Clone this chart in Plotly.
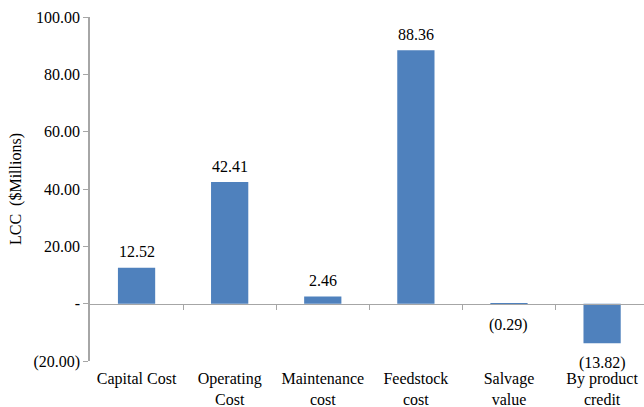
import plotly.graph_objects as go

categories = ["Capital Cost", "Operating<br>Cost", "Maintenance<br>cost", "Feedstock<br>cost",
              "Salvage<br>value", "By product<br>credit"]
values = [12.52, 42.41, 2.46, 88.36, -0.29, -13.82]
y_tickvals = [-20, 0, 20, 40, 60, 80, 100]
y_ticktext = ["(20.00)", "-", "20.00", "40.00", "60.00", "80.00", "100.00"]

def fmt(v):
    return f"{v:.2f}" if v >= 0 else f"({-v:.2f})"

labels = [fmt(v) for v in values]
xpos = list(range(len(categories)))

FONT = "Liberation Serif"
AXIS_COLOR = "#A6A6A6"

fig = go.Figure()
fig.add_trace(go.Bar(
    x=xpos, y=values,
    marker=dict(color="#4F81BD", line=dict(width=0)),
    showlegend=False, hoverinfo="skip",
))
# helper trace so the zero-line axis is drawn
fig.add_trace(go.Scatter(x=[None], y=[None], xaxis="x2", showlegend=False, hoverinfo="skip"))

for xi, v, lab in zip(xpos, values, labels):
    fig.add_annotation(x=xi, y=v, text=lab, showarrow=False, xref="x", yref="y",
                       yanchor="middle", yshift=16 if v >= 0 else -20,
                       font=dict(family=FONT, size=16, color="black"))

fig.update_layout(
    width=644, height=407,
    margin=dict(l=90, r=0, t=17, b=46),
    paper_bgcolor="white", plot_bgcolor="white",
    font=dict(family=FONT, size=16, color="black"),
    bargap=0.6,
    xaxis=dict(
        range=[-0.5, 5.45], tickmode="array", tickvals=xpos, ticktext=categories,
        showline=False, ticks="", showgrid=False, zeroline=False, automargin=False,
        ticklabelstandoff=6, ticklabeloverflow="allow",
        tickfont=dict(family=FONT, size=16, color="black"),
    ),
    xaxis2=dict(
        overlaying="x", anchor="free", position=1/6, range=[-0.5, 5.45],
        tickmode="array", tickvals=[0.5, 1.5, 2.5, 3.5, 4.5],
        ticks="outside", ticklen=5, tickcolor=AXIS_COLOR, tickwidth=1,
        showline=True, linecolor=AXIS_COLOR, linewidth=1.2,
        showticklabels=False, showgrid=False, zeroline=False, automargin=False,
    ),
    yaxis=dict(
        range=[-20, 100], tickmode="array", tickvals=y_tickvals, ticktext=y_ticktext,
        showline=True, linecolor=AXIS_COLOR, linewidth=1.5,
        ticks="outside", ticklen=5, tickcolor=AXIS_COLOR,
        showgrid=False, zeroline=False, automargin=False, ticklabeloverflow="allow",
        tickfont=dict(family=FONT, size=16, color="black"),
        title=dict(text="LCC\u00a0\u00a0($Millions)", standoff=8,
                   font=dict(family=FONT, size=16, color="black")),
    ),
)

fig.write_html("out.html", config={"displayModeBar": False},
               post_script="document.body.style.margin='0';")
